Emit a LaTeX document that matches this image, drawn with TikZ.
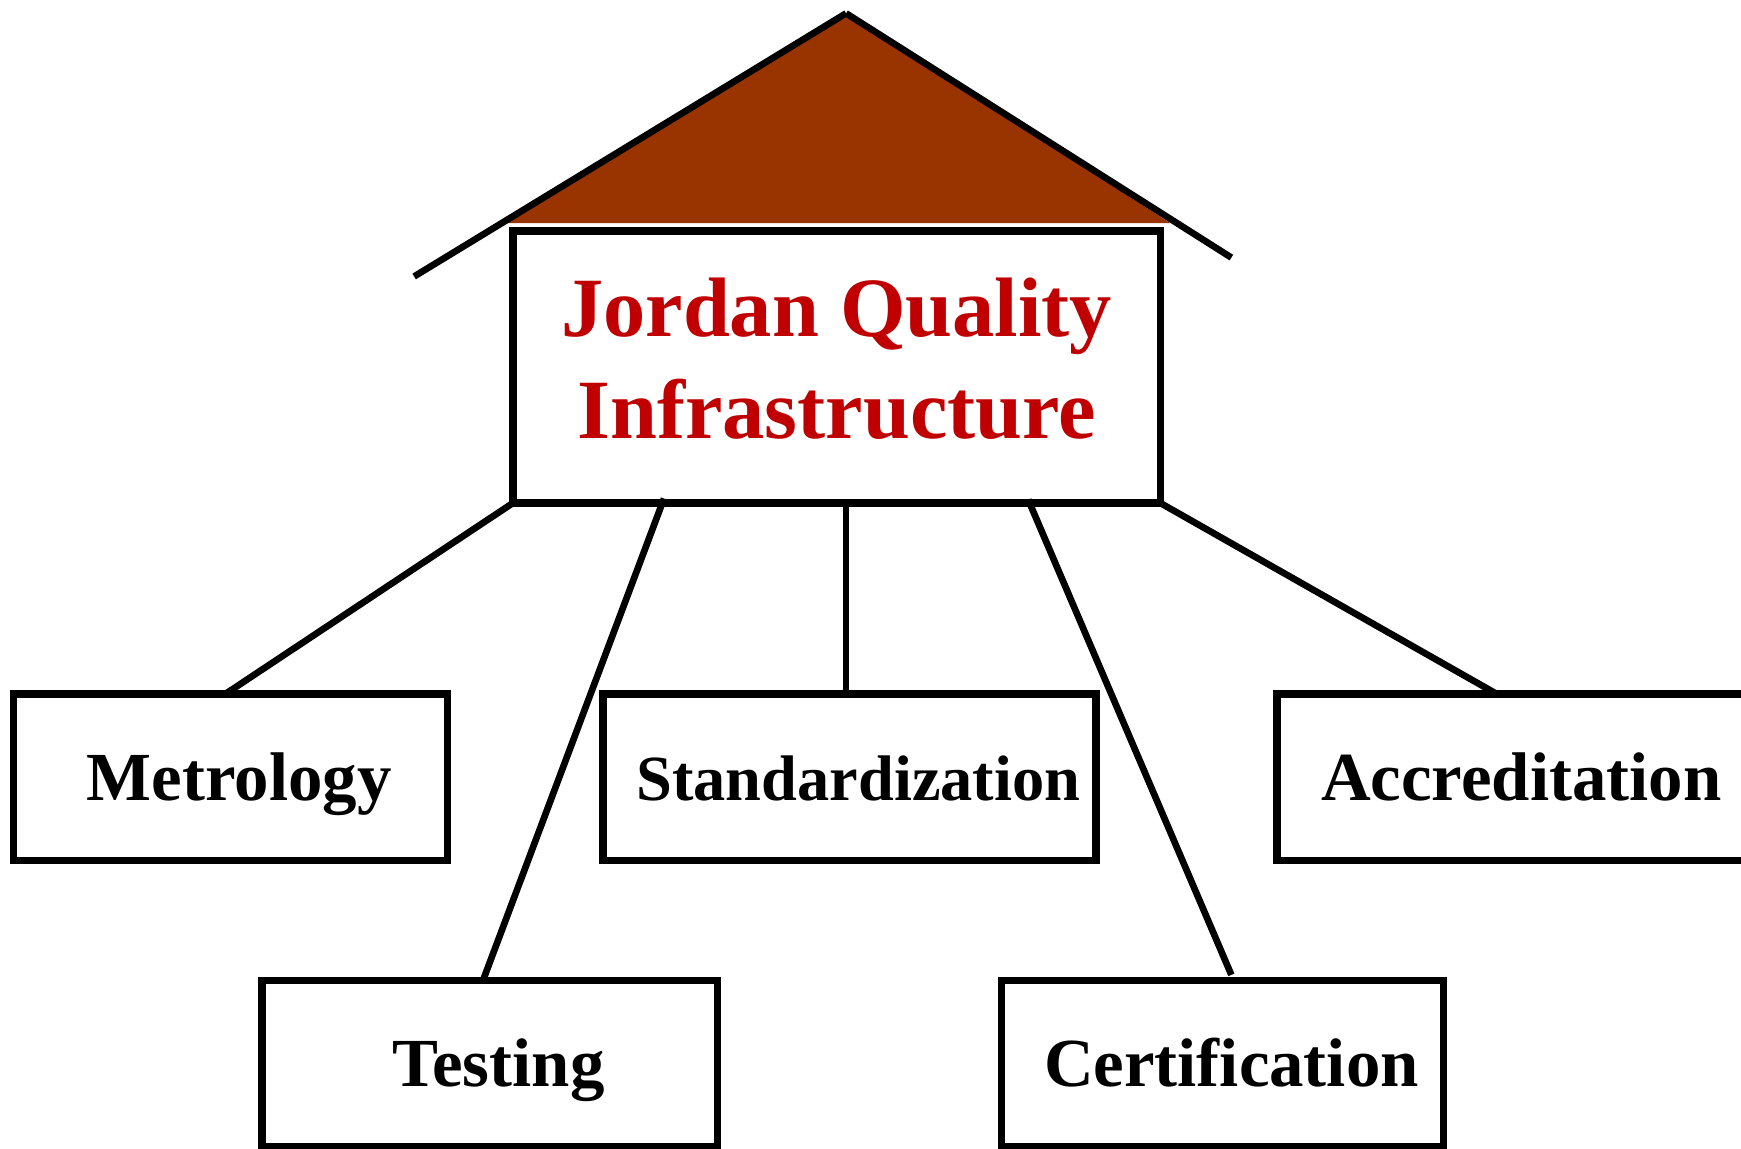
\documentclass[tikz,border=0pt]{standalone}
\usepackage{fontspec}
\setmainfont{Liberation Serif}
\usetikzlibrary{calc}
\definecolor{roofbrown}{RGB}{153,51,0}
\definecolor{titlered}{RGB}{192,0,0}
\begin{document}
\begin{tikzpicture}[x=1pt,y=-1pt,
  boxbase/.style={draw=black, line width=6.8pt, rectangle, inner sep=0pt, outer sep=0pt, fill=white},
  childbox/.style={boxbase, minimum height=150pt, font=\fontsize{62}{74}\selectfont\bfseries,
    text height=41pt, text depth=0pt, execute at begin node={\hspace*{16pt}}},
  link/.style={draw=black, line width=6pt},
  roofline/.style={draw=black, line width=6pt}]
\useasboundingbox (0,0) rectangle (1568,1034);
% roof
\coordinate (roofL) at (373,249);
\coordinate (apex) at (762,12);
\coordinate (roofR) at (1109,232);
\coordinate (fillL) at (454,201);
\coordinate (fillR) at (1054,201);
\fill[roofbrown] (fillL) -- (apex) -- (fillR) -- cycle;
\draw[roofline] (roofL) -- (apex);
\draw[roofline] (apex) -- (roofR);
% main box
\node[boxbase, minimum width=583pt, minimum height=245pt, text=titlered, align=center,
  font=\fontsize{76}{92}\selectfont\bfseries] (jqi) at (753.5,330.5)
  {Jordan Quality\\Infrastructure\rule[-16pt]{0pt}{16pt}};
% child boxes
\node[childbox, minimum width=391pt] (met) at (207.5,700) {Metrology};
\node[childbox, minimum width=444pt, font=\fontsize{58}{70}\selectfont\bfseries] (std) at (765,700) {Standardization};
\node[childbox, minimum width=424pt] (acc) at (1362,700) {Accreditation};
\node[childbox, minimum width=410pt] (tst) at (441,958) {Testing};
\node[childbox, minimum width=398pt] (cer) at (1101,958) {Certification};
% connectors
\draw[link] (jqi.south west) -- ($(met.north west)+(191,0)$);
\draw[link] ($(jqi.south west)+(136,-4)$) -- ($(tst.north west)+(199,0)$);
\draw[link] ($(jqi.south west)+(300,0)$) -- ($(std.north west)+(219,0)$);
\draw[link] ($(jqi.south west)+(464,-3)$) -- ($(cer.north west)+(207,-5)$);
\draw[link] (jqi.south east) -- ($(acc.north west)+(198,0)$);
\end{tikzpicture}
\end{document}
